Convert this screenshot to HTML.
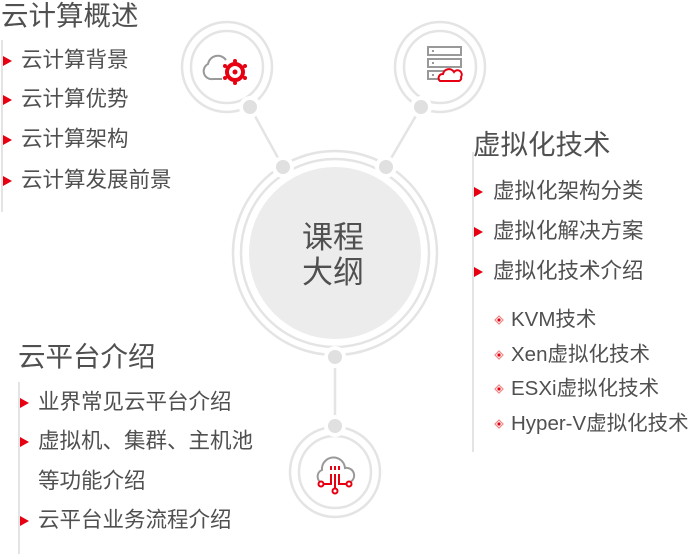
<!DOCTYPE html>
<html><head><meta charset="utf-8"><style>
body{margin:0;width:689px;height:557px;background:#fff;position:relative;overflow:hidden;font-family:"Liberation Sans","Noto Sans CJK SC",sans-serif;color:#505050}
.t{position:absolute;white-space:nowrap;line-height:1}
.h{font-size:27.5px}
.i{font-size:21.5px}
.s{font-size:20.5px}
svg{position:absolute;left:0;top:0}
</style></head><body>
<svg width="689" height="557" viewBox="0 0 689 557">
<g fill="none" stroke="#e4e4e4" stroke-width="2.5">
<line x1="250" y1="107" x2="283" y2="167"/>
<line x1="421" y1="107" x2="386" y2="167"/>
<line x1="335" y1="357" x2="335" y2="426"/>
<circle cx="335" cy="253" r="102"/>
<circle cx="335" cy="253" r="94"/>
<circle cx="227" cy="67" r="45"/><circle cx="227" cy="67" r="36"/>
<circle cx="440" cy="67" r="45"/><circle cx="440" cy="67" r="36"/>
<circle cx="335" cy="472" r="45"/><circle cx="335" cy="472" r="36"/>
<line x1="2" y1="40" x2="2" y2="212" stroke-width="2"/>
<line x1="473" y1="152" x2="473" y2="452" stroke-width="2"/>
<line x1="19" y1="382" x2="19" y2="554" stroke-width="2"/>
</g>
<circle cx="335" cy="253" r="86" fill="#ececec"/>
<g fill="#fff"><circle cx="250" cy="107" r="11"/><circle cx="421" cy="107" r="11"/><circle cx="283" cy="167" r="11"/><circle cx="386" cy="167" r="11"/><circle cx="335" cy="357" r="11"/><circle cx="335" cy="426" r="11"/></g>
<g fill="#e0e0e0"><circle cx="250" cy="107" r="7"/><circle cx="421" cy="107" r="7"/><circle cx="283" cy="167" r="7"/><circle cx="386" cy="167" r="7"/><circle cx="335" cy="357" r="7"/><circle cx="335" cy="426" r="7"/></g>
<g fill="#e60012">
<polygon points="3,56 12,61 3,66"/><polygon points="3,95 12,100 3,105"/><polygon points="3,135 12,140 3,145"/><polygon points="3,176 12,181 3,186"/>
<polygon points="474,187 483,192 474,197"/><polygon points="474,227 483,232 474,237"/><polygon points="474,267 483,272 474,277"/>
<polygon points="20,398 29,403 20,408"/><polygon points="20,437 29,442 20,447"/><polygon points="20,516 29,521 20,526"/>
</g>
<g fill="#fff" stroke="#e88" stroke-width="1.2">
<polygon points="499,316 503,320 499,324 495,320"/><polygon points="499,351 503,355 499,359 495,355"/><polygon points="499,385 503,389 499,393 495,389"/><polygon points="499,420 503,424 499,428 495,424"/>
</g>
<g fill="#e60012"><circle cx="499" cy="320" r="1.6"/><circle cx="499" cy="355" r="1.6"/><circle cx="499" cy="389" r="1.6"/><circle cx="499" cy="424" r="1.6"/></g>
<path d="M226,60 A10,10 0 0 0 208,64 A8,8 0 0 0 213,79 L222,79" fill="none" stroke="#999" stroke-width="2"/>
<circle cx="235" cy="72" r="8" fill="none" stroke="#e60012" stroke-width="4"/>
<circle cx="235" cy="72" r="2.5" fill="#e60012"/>
<g fill="#e60012"><circle cx="235" cy="61" r="2"/><circle cx="235" cy="83" r="2"/><circle cx="245" cy="66" r="2"/><circle cx="225" cy="66" r="2"/><circle cx="245" cy="78" r="2"/><circle cx="225" cy="78" r="2"/></g>
<g fill="none" stroke="#999" stroke-width="2"><rect x="428" y="47" width="33" height="8"/><rect x="428" y="59" width="33" height="8"/><path d="M438,79 L428,79 L428,71 L445,71"/></g>
<g fill="#999"><rect x="432" y="50" width="2" height="2"/><rect x="432" y="62" width="2" height="2"/><rect x="432" y="74" width="2" height="2"/></g>
<path d="M440,81 A4,4 0 0 1 443,74 A6,6 0 0 1 454,72 A4,4 0 0 1 461,77 A3,3 0 0 1 459,81 Z" fill="none" stroke="#e60012" stroke-width="2"/>
<path d="M322,483 A7,7 0 0 1 322,470 A10,10 0 0 1 345,468 A7,7 0 0 1 348,483" fill="none" stroke="#999" stroke-width="2"/>
<g fill="none" stroke="#e60012" stroke-width="2"><path d="M331,466 V470 M331,474 V484 H324"/><path d="M335,466 V470 M335,474 V490"/><path d="M339,466 V470 M339,474 V484 H346"/></g>
<g fill="#fff" stroke="#e60012" stroke-width="2"><circle cx="321" cy="484" r="2.5"/><circle cx="349" cy="484" r="2.5"/><circle cx="335" cy="491" r="2.5"/></g>
</svg>
<div class="t" style="left:302px;top:220px;font-size:31px;line-height:35px;text-align:center">课程<br>大纲</div>
<div class="t h" style="left:1px;top:2px">云计算概述</div>
<div class="t i" style="left:21px;top:50px">云计算背景</div>
<div class="t i" style="left:21px;top:89px">云计算优势</div>
<div class="t i" style="left:21px;top:129px">云计算架构</div>
<div class="t i" style="left:21px;top:170px">云计算发展前景</div>
<div class="t h" style="left:473px;top:131px">虚拟化技术</div>
<div class="t i" style="left:493px;top:181px">虚拟化架构分类</div>
<div class="t i" style="left:493px;top:221px">虚拟化解决方案</div>
<div class="t i" style="left:493px;top:261px">虚拟化技术介绍</div>
<div class="t s" style="left:511px;top:310px">KVM技术</div>
<div class="t s" style="left:511px;top:345px">Xen虚拟化技术</div>
<div class="t s" style="left:511px;top:379px">ESXi虚拟化技术</div>
<div class="t s" style="left:511px;top:414px">Hyper-V虚拟化技术</div>
<div class="t h" style="left:18px;top:343px">云平台介绍</div>
<div class="t i" style="left:38px;top:392px">业界常见云平台介绍</div>
<div class="t i" style="left:38px;top:431px">虚拟机、集群、主机池</div>
<div class="t i" style="left:38px;top:471px">等功能介绍</div>
<div class="t i" style="left:38px;top:510px">云平台业务流程介绍</div>
</body></html>
